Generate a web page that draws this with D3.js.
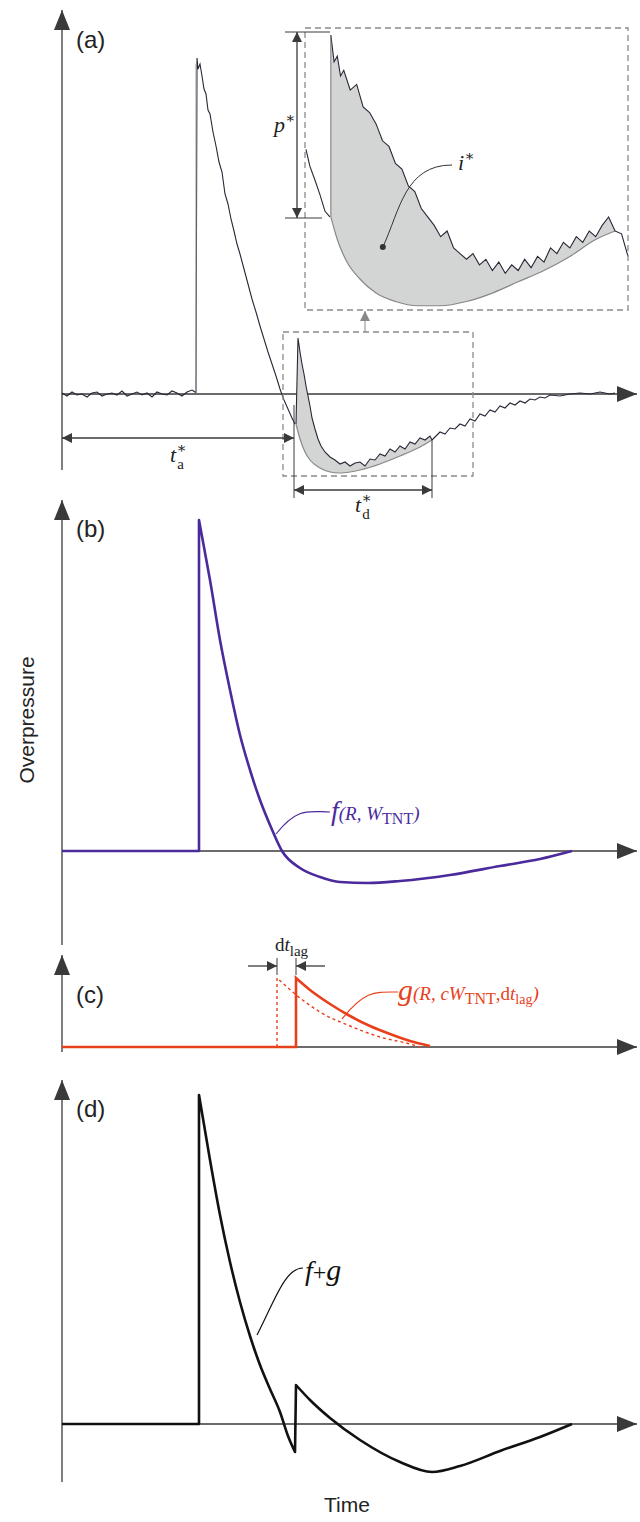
<!DOCTYPE html>
<html><head><meta charset="utf-8">
<script src="https://cdn.jsdelivr.net/npm/d3@7"></script>
<style>body{margin:0;background:#fff}</style></head>
<body><svg id="c" width="640" height="1522"></svg>
<script>
// ---------- DATA ----------
// Panel (a): measured trace, [time, overpressure]
const baseNoise = [1,-2,2,-1,0,-3,1,2,-2,0,1,-1,3,-2,0,2,-1,1,-3,2,0,-1,3,1,-2,2,4];
const traceMain = [[195,2],[196,0],[197,336],[198,325],[200,330],[202,318],[204,305],[206,300],[208,284],[210,280],[213,262],[216,248],[219,232],[222,222],[225,200],[228,190],[231,175],[234,163],[237,150],[240,140],[244,125],[248,110],[252,95],[256,82],[260,68],[264,55],[268,42],[272,30],[276,18],[280,5],[284,-6],[288,-15],[292,-24],[295,-30]];
const traceSpike = [[296,-30],[298,56],[300,42],[302,30],[304,20],[306,8],[308,-2],[310,-12],[312,-24],[315,-35],[318,-45],[321,-52],[325,-58],[330,-63],[335,-66],[340,-70],[345,-68],[350,-72],[355,-69],[360,-68],[365,-72],[370,-65],[375,-66],[380,-60],[385,-62],[390,-55],[395,-58],[400,-52],[405,-55],[410,-48],[415,-50],[420,-44],[425,-46],[430,-42],[432,-46]];
const traceTail = [[432,-46],[435,-43],[440,-38],[445,-40],[450,-34],[455,-35],[460,-30],[465,-32],[470,-25],[475,-27],[480,-20],[485,-22],[490,-16],[495,-18],[500,-12],[505,-14],[510,-9],[515,-11],[520,-7],[525,-9],[530,-5],[535,-6],[540,-3],[545,-4],[550,-1],[560,-2],[570,0],[580,1],[590,0],[600,2],[610,0],[615,1]];
const fitLower = [[296,-30],[300,-45],[305,-58],[310,-66],[320,-74],[330,-78],[340,-79],[350,-78],[360,-76],[380,-70],[400,-62],[420,-53],[432,-46]];
// Inset (zoomed) trace, [u, q] in 0..100 inset units
const insetPre = [[0.3,57],[1.5,51],[3.1,46],[4.6,41],[6.2,35],[7.7,33]];
const insetSpike = [[8,33],[8,97.5],[9,88],[10,90],[11,83],[12,85],[14,78],[16,80],[18,72],[20,70],[22,66],[24,60],[26,58],[28,52],[30,50],[32,44],[34,42],[36,36],[38,33],[40,30],[42,26],[44,28],[46,22],[48,20],[50,18],[52,20],[54,16],[56,18],[58,14],[60,17],[62,13],[64,16],[66,14],[68,18],[70,15],[72,19],[74,17],[76,22],[78,20],[80,24],[82,22],[84,26],[86,24],[88,28],[90,26],[92,30],[94,33],[96,28]];
const insetPost = [[96,28],[98,27],[100,19]];
const insetFit = [[8,33],[10,25],[13,17],[17,11],[22,6],[28,3],[35,1.5],[42,1.5],[50,3],[58,6],[66,10],[74,14],[82,19],[90,25],[96,28]];
// Panel (b): f(R, W_TNT)  (flat part, then decay from the jump top)
const fFlat = [[62,0],[199,0],[199,331]];
const fDecay = [[199,331],[210,271],[220,211],[230,161],[240,116],[250,81],[260,51],[270,26],[282,0],[300,-17],[320,-26],[340,-31],[368,-32],[400,-30],[450,-24],[500,-15],[540,-8],[572,0]];
// Panel (c): g and its unlagged version
const gFlat = [[62,0],[296,0],[296,69]];
const gDecay = [[296,69],[310,57],[330,43],[350,31],[370,21],[390,13],[410,6],[430,1]];
const gUnFlat = [[277,0],[277,69]];
const gUnDecay = [[277,69],[300,49],[320,35],[350,21],[380,10],[410,3],[420,0]];
// Panel (d): f+g
const sumFlat = [[62,0],[199,0],[199,329]];
const sumDecay1 = [[199,329],[210,264],[220,209],[230,162],[240,122],[250,88],[260,59],[270,35],[280,12],[288,-12],[295,-28]];
const sumJump = [[295,-28],[296,39]];
const sumDecay2 = [[296,39],[310,24],[330,6],[360,-16],[400,-38],[432,-48],[460,-42],[500,-27],[540,-13],[572,0]];

// ---------- DRAW ----------
const svg = d3.select("#c");
const x = d3.scaleLinear().domain([62,637]).range([62,637]);
const ya = d3.scaleLinear().domain([0,100]).range([394,294]);
const yb = d3.scaleLinear().domain([0,100]).range([851,751]);
const yc = d3.scaleLinear().domain([0,100]).range([1047,947]);
const yd = d3.scaleLinear().domain([0,100]).range([1424,1324]);
const ix = d3.scaleLinear().domain([0,100]).range([305,628]);
const iy = d3.scaleLinear().domain([0,100]).range([310,28]);
const axC = "#3a3a3a";
const defs = svg.append("defs");
function marker(id, col){
  defs.append("marker").attr("id",id).attr("viewBox","0 0 10 10").attr("refX",10).attr("refY",5)
   .attr("markerWidth",10).attr("markerHeight",10).attr("markerUnits","userSpaceOnUse").attr("orient","auto-start-reverse")
   .append("path").attr("d","M0,0L10,5L0,10Z").attr("fill",col);
}
marker("ar", axC); marker("big", axC); marker("gr","#888");
defs.select("#big").attr("markerWidth",20).attr("markerHeight",20).attr("viewBox","0 0 20 20").attr("refX",20).attr("refY",10)
  .select("path").attr("d","M0,2L20,10L0,18Z");

function axes(y0, yTop, yBot){
  svg.append("line").attr("x1",62).attr("x2",62).attr("y1",yBot).attr("y2",yTop)
    .attr("stroke",axC).attr("stroke-width",1.3).attr("marker-end","url(#big)");
  svg.append("line").attr("x1",62).attr("x2",x(637)).attr("y1",y0).attr("y2",y0)
    .attr("stroke",axC).attr("stroke-width",1.3).attr("marker-end","url(#big)");
}
axes(ya(0), 10, 470); axes(yb(0), 500, 945); axes(yc(0), 955, 1052); axes(yd(0), 1080, 1482);

const lineA = d3.line().x(d=>x(d[0])).y(d=>ya(d[1]));
const lineI = d3.line().x(d=>ix(d[0])).y(d=>iy(d[1]));
const smoothA = d3.line().x(d=>x(d[0])).y(d=>ya(d[1])).curve(d3.curveMonotoneX);
const smoothI = d3.line().x(d=>ix(d[0])).y(d=>iy(d[1])).curve(d3.curveMonotoneX);

// Panel (a)
svg.append("path").attr("d",lineA(traceSpike.slice(1))+"L"+smoothA(fitLower.slice().reverse()).slice(1)+"Z").attr("fill","#d3d4d4").attr("stroke","none");
svg.append("path").attr("d",smoothA(fitLower)).attr("fill","none").attr("stroke","#888").attr("stroke-width",1.2);
const baseline = baseNoise.map((v,i)=>[62+5*i, v]);
[baseline.concat(traceMain), traceSpike, traceTail].forEach(t=>
  svg.append("path").attr("d",lineA(t)).attr("fill","none").attr("stroke","#2a2636").attr("stroke-width",1.1));
svg.append("line").attr("x1",x(196)).attr("x2",x(196)).attr("y1",ya(0)).attr("y2",ya(330)).attr("stroke","#999").attr("stroke-width",1);

// inset
svg.append("path").attr("d",lineI(insetSpike)+"L"+smoothI(insetFit.slice().reverse()).slice(1)+"Z").attr("fill","#d3d4d4");
svg.append("path").attr("d",smoothI(insetFit)).attr("fill","none").attr("stroke","#888").attr("stroke-width",1.2);
[insetPre, insetSpike.slice(1), insetPost].forEach(t=>
  svg.append("path").attr("d",lineI(t)).attr("fill","none").attr("stroke","#2a2636").attr("stroke-width",1.1));
svg.append("line").attr("x1",ix(8)).attr("x2",ix(8)).attr("y1",iy(33)).attr("y2",iy(97.5)).attr("stroke","#777");

// dashed boxes
const dash = {stroke:"#8a8a8a","stroke-width":1.3,"stroke-dasharray":"6,4",fill:"none"};
function rect(x0,y0,x1,y1){const r=svg.append("rect").attr("x",x0).attr("y",y0).attr("width",x1-x0).attr("height",y1-y0);for(const k in dash)r.attr(k,dash[k]);}
rect(305,28,628,310); rect(283,332,473,476);
svg.append("line").attr("x1",365).attr("x2",365).attr("y1",332).attr("y2",311).attr("stroke","#888").attr("marker-end","url(#gr)");

// annotations
const ann = (x1,y1,x2,y2,both)=>{const l=svg.append("line").attr("x1",x1).attr("y1",y1).attr("x2",x2).attr("y2",y2).attr("stroke",axC).attr("stroke-width",1.3).attr("marker-end","url(#ar)");if(both)l.attr("marker-start","url(#ar)");return l;};
ann(62,438,294,438,true);
ann(294,490,432,490,true);
svg.append("line").attr("x1",294).attr("x2",294).attr("y1",405).attr("y2",498).attr("stroke",axC);
svg.append("line").attr("x1",432).attr("x2",432).attr("y1",440).attr("y2",498).attr("stroke",axC);
ann(297,32,297,218,true);
svg.append("line").attr("x1",285).attr("x2",330).attr("y1",32).attr("y2",32).attr("stroke",axC);
svg.append("line").attr("x1",285).attr("x2",322).attr("y1",218).attr("y2",218).attr("stroke",axC);
svg.append("circle").attr("cx",ix(24.1)).attr("cy",iy(22.3)).attr("r",3).attr("fill","#333");
svg.append("path").attr("d",`M${ix(24.1)},${iy(22.3)} C400,210 405,165 452,165`).attr("fill","none").attr("stroke","#333");

function label(xp,yp,parts,col,anchor){
  const t=svg.append("text").attr("x",xp).attr("y",yp).attr("fill",col||"#222").attr("text-anchor",anchor||"start");
  parts.forEach(p=>{const s=t.append("tspan").text(p.t).attr("font-family",p.ff||"'Liberation Serif',serif").attr("font-size",p.fs||18);
    if(p.it)s.attr("font-style","italic"); if(p.dy)s.attr("dy",p.dy); if(p.dx)s.attr("dx",p.dx);});
  return t;
}
const star = "\u2217";
label(170,462,[{t:"t",it:1,fs:22},{t:star,fs:15,dy:-9,ff:"'DejaVu Serif',serif"},{t:"a",fs:15,dy:16,dx:-9}]);
label(355,512,[{t:"t",it:1,fs:22},{t:star,fs:15,dy:-9,ff:"'DejaVu Serif',serif"},{t:"d",fs:15,dy:16,dx:-9}]);
label(274,132,[{t:"p",it:1,fs:22},{t:star,fs:15,dy:-9,ff:"'DejaVu Serif',serif"}]);
label(458,170,[{t:"i",it:1,fs:22},{t:star,fs:15,dy:-9,ff:"'DejaVu Serif',serif"}]);

const sans="Arial,'Liberation Sans',sans-serif";
[["(a)",48],["(b)",537],["(c)",1003],["(d)",1117]].forEach(d=>
  svg.append("text").attr("x",76).attr("y",d[1]).text(d[0]).attr("font-family",sans).attr("font-size",24).attr("fill","#222"));

// Panel (b)
const purple="#4b2a9c";
const lineB = d3.line().x(d=>x(d[0])).y(d=>yb(d[1]));
const smoothB = d3.line().x(d=>x(d[0])).y(d=>yb(d[1])).curve(d3.curveMonotoneX);
svg.append("path").attr("d",lineB(fFlat)+"L"+smoothB(fDecay).slice(1)).attr("fill","none").attr("stroke",purple).attr("stroke-width",2.6).attr("stroke-linejoin","round");
svg.append("path").attr("d","M276,834 C298,806 310,812 330,812").attr("fill","none").attr("stroke",purple).attr("stroke-width",1.2);
label(331,820,[{t:"f",it:1,fs:28},{t:"(R, W",it:1,fs:19},{t:"TNT",fs:16,dy:4},{t:")",it:1,fs:19,dy:-4}],purple);
svg.append("text").attr("transform","translate(34,720) rotate(-90)").attr("text-anchor","middle")
  .attr("font-family",sans).attr("font-size",21).attr("fill","#222").text("Overpressure");

// Panel (c)
const red="#e8401c";
const lineC = d3.line().x(d=>x(d[0])).y(d=>yc(d[1]));
const smoothC = d3.line().x(d=>x(d[0])).y(d=>yc(d[1])).curve(d3.curveMonotoneX);
svg.append("path").attr("d",lineC(gUnFlat)+"L"+smoothC(gUnDecay).slice(1)).attr("fill","none").attr("stroke",red).attr("stroke-width",1.4).attr("stroke-dasharray","3,3");
svg.append("path").attr("d",lineC(gFlat)+"L"+smoothC(gDecay).slice(1)).attr("fill","none").attr("stroke",red).attr("stroke-width",2.6);
ann(248,966,277,966); ann(325,966,296,966);
svg.append("line").attr("x1",277).attr("x2",277).attr("y1",958).attr("y2",975).attr("stroke",axC);
svg.append("line").attr("x1",296).attr("x2",296).attr("y1",958).attr("y2",975).attr("stroke",axC);
label(275,951,[{t:"d",fs:19},{t:"t",it:1,fs:19},{t:"lag",fs:15,dy:5}]);
svg.append("path").attr("d","M342,1019 C365,990 375,992 398,992").attr("fill","none").attr("stroke",red).attr("stroke-width",1.2);
label(398,1000,[{t:"g",it:1,fs:30},{t:"(R, cW",it:1,fs:19},{t:"TNT",fs:16,dy:4},{t:",d",fs:19,dy:-4},{t:"t",it:1,fs:19},{t:"lag",fs:14,dy:4},{t:")",it:1,fs:19,dy:-4}],red);

// Panel (d)
const lineD = d3.line().x(d=>x(d[0])).y(d=>yd(d[1]));
const smoothD = d3.line().x(d=>x(d[0])).y(d=>yd(d[1])).curve(d3.curveMonotoneX);
svg.append("path").attr("d",lineD(sumFlat)+"L"+smoothD(sumDecay1).slice(1)+"L"+lineD(sumJump).slice(1)+"L"+smoothD(sumDecay2).slice(1))
  .attr("fill","none").attr("stroke","#111").attr("stroke-width",2.6).attr("stroke-linejoin","round");
svg.append("path").attr("d","M257,1335 C275,1300 285,1268 303,1268").attr("fill","none").attr("stroke","#111").attr("stroke-width",1.2);
label(305,1280,[{t:"f",it:1,fs:28},{t:"+",fs:24},{t:"g",it:1,fs:30}],"#111");
svg.append("text").attr("x",347).attr("y",1512).attr("text-anchor","middle").attr("font-family",sans).attr("font-size",21).attr("fill","#222").text("Time");
</script></body></html>
